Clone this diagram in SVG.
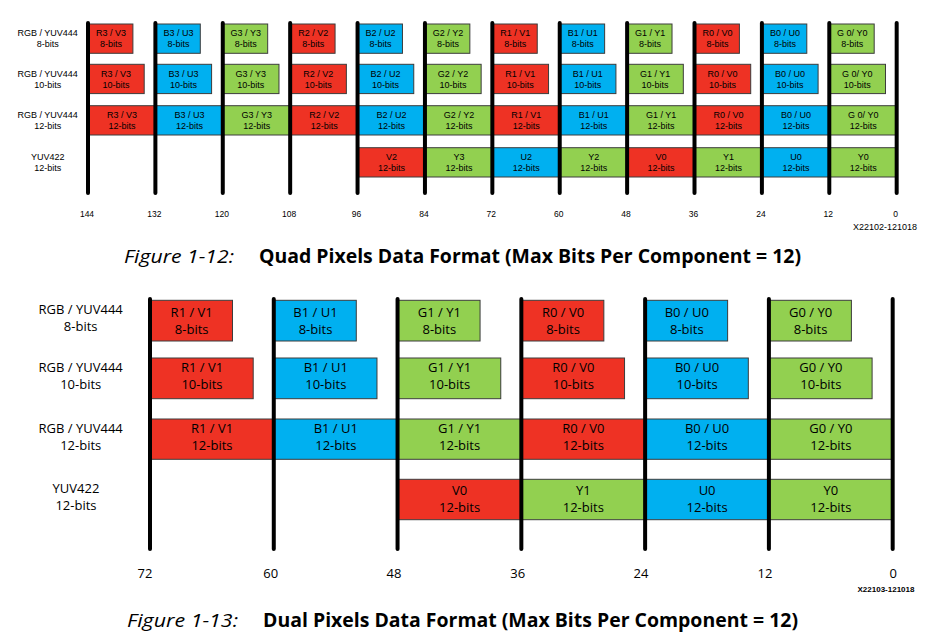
<svg xmlns="http://www.w3.org/2000/svg" width="952" height="643" viewBox="0 0 952 643">
  <style>
    .r { fill: #EE3224; }
    .b { fill: #00B0F0; }
    .g { fill: #92D050; }
    rect { stroke: #3C3C3C; stroke-width: 1; }
    .bar { stroke: #000; stroke-width: 4; stroke-linecap: round; fill: none; }
    .t9 { font-family: "Liberation Sans", Arial, sans-serif; font-size: 9px; fill: #000; text-anchor: middle; }
    .t13 { font-family: "Open Sans", "Liberation Sans", sans-serif; font-size: 13px; fill: #000; text-anchor: middle; }
    .tag { font-family: "Liberation Sans", Arial, sans-serif; font-size: 8px; font-weight: bold; fill: #000; text-anchor: middle; }
    .capi { font-family: "Open Sans", "Liberation Sans", sans-serif; font-size: 19px; font-style: italic; fill: #000; }
    .capb { font-family: "Open Sans", "Liberation Sans", sans-serif; font-size: 19px; font-weight: bold; fill: #000; }
  </style>

  <!-- ===== Quad pixels (48-bit per pixel, 12 bit slots) ===== -->
  <g id="quad-row-labels" class="t9">
    <text x="47.7" y="35.9">RGB / YUV444</text><text x="47.7" y="46.9">8-bits</text>
    <text x="47.7" y="76.9">RGB / YUV444</text><text x="47.7" y="87.5">10-bits</text>
    <text x="47.7" y="117.9">RGB / YUV444</text><text x="47.7" y="128.9">12-bits</text>
    <text x="47.7" y="159.9">YUV422</text><text x="47.7" y="170.9">12-bits</text>
  </g>

  <!-- 8-bit row -->
  <g id="q8-r3"><rect class="r" x="88" y="24" width="44.9" height="29.3"/><text class="t9" x="111" y="35.9">R3 / V3</text><text class="t9" x="111" y="46.9">8-bits</text></g>
  <g id="q8-b3"><rect class="b" x="155.39" y="24" width="44.9" height="29.3"/><text class="t9" x="178.4" y="35.9">B3 / U3</text><text class="t9" x="178.4" y="46.9">8-bits</text></g>
  <g id="q8-g3"><rect class="g" x="222.78" y="24" width="44.9" height="29.3"/><text class="t9" x="245.8" y="35.9">G3 / Y3</text><text class="t9" x="245.8" y="46.9">8-bits</text></g>
  <g id="q8-r2"><rect class="r" x="290.17" y="24" width="44.9" height="29.3"/><text class="t9" x="313.2" y="35.9">R2 / V2</text><text class="t9" x="313.2" y="46.9">8-bits</text></g>
  <g id="q8-b2"><rect class="b" x="357.56" y="24" width="44.9" height="29.3"/><text class="t9" x="380.6" y="35.9">B2 / U2</text><text class="t9" x="380.6" y="46.9">8-bits</text></g>
  <g id="q8-g2"><rect class="g" x="424.95" y="24" width="44.9" height="29.3"/><text class="t9" x="448" y="35.9">G2 / Y2</text><text class="t9" x="448" y="46.9">8-bits</text></g>
  <g id="q8-r1"><rect class="r" x="492.34" y="24" width="44.9" height="29.3"/><text class="t9" x="515.3" y="35.9">R1 / V1</text><text class="t9" x="515.3" y="46.9">8-bits</text></g>
  <g id="q8-b1"><rect class="b" x="559.73" y="24" width="44.9" height="29.3"/><text class="t9" x="582.7" y="35.9">B1 / U1</text><text class="t9" x="582.7" y="46.9">8-bits</text></g>
  <g id="q8-g1"><rect class="g" x="627.12" y="24" width="44.9" height="29.3"/><text class="t9" x="650.1" y="35.9">G1 / Y1</text><text class="t9" x="650.1" y="46.9">8-bits</text></g>
  <g id="q8-r0"><rect class="r" x="694.51" y="24" width="44.9" height="29.3"/><text class="t9" x="717.5" y="35.9">R0 / V0</text><text class="t9" x="717.5" y="46.9">8-bits</text></g>
  <g id="q8-b0"><rect class="b" x="761.9" y="24" width="44.9" height="29.3"/><text class="t9" x="784.9" y="35.9">B0 / U0</text><text class="t9" x="784.9" y="46.9">8-bits</text></g>
  <g id="q8-g0"><rect class="g" x="829.29" y="24" width="44.9" height="29.3"/><text class="t9" x="852.3" y="35.9">G 0/ Y0</text><text class="t9" x="852.3" y="46.9">8-bits</text></g>

  <!-- 10-bit row -->
  <g id="q10-r3"><rect class="r" x="88" y="64.3" width="56.2" height="29.3"/><text class="t9" x="116" y="76.9">R3 / V3</text><text class="t9" x="116" y="87.5">10-bits</text></g>
  <g id="q10-b3"><rect class="b" x="155.39" y="64.3" width="56.2" height="29.3"/><text class="t9" x="183.4" y="76.9">B3 / U3</text><text class="t9" x="183.4" y="87.5">10-bits</text></g>
  <g id="q10-g3"><rect class="g" x="222.78" y="64.3" width="56.2" height="29.3"/><text class="t9" x="250.8" y="76.9">G3 / Y3</text><text class="t9" x="250.8" y="87.5">10-bits</text></g>
  <g id="q10-r2"><rect class="r" x="290.17" y="64.3" width="56.2" height="29.3"/><text class="t9" x="318.2" y="76.9">R2 / V2</text><text class="t9" x="318.2" y="87.5">10-bits</text></g>
  <g id="q10-b2"><rect class="b" x="357.56" y="64.3" width="56.2" height="29.3"/><text class="t9" x="385.6" y="76.9">B2 / U2</text><text class="t9" x="385.6" y="87.5">10-bits</text></g>
  <g id="q10-g2"><rect class="g" x="424.95" y="64.3" width="56.2" height="29.3"/><text class="t9" x="453" y="76.9">G2 / Y2</text><text class="t9" x="453" y="87.5">10-bits</text></g>
  <g id="q10-r1"><rect class="r" x="492.34" y="64.3" width="56.2" height="29.3"/><text class="t9" x="520.3" y="76.9">R1 / V1</text><text class="t9" x="520.3" y="87.5">10-bits</text></g>
  <g id="q10-b1"><rect class="b" x="559.73" y="64.3" width="56.2" height="29.3"/><text class="t9" x="587.7" y="76.9">B1 / U1</text><text class="t9" x="587.7" y="87.5">10-bits</text></g>
  <g id="q10-g1"><rect class="g" x="627.12" y="64.3" width="56.2" height="29.3"/><text class="t9" x="655.1" y="76.9">G1 / Y1</text><text class="t9" x="655.1" y="87.5">10-bits</text></g>
  <g id="q10-r0"><rect class="r" x="694.51" y="64.3" width="56.2" height="29.3"/><text class="t9" x="722.5" y="76.9">R0 / V0</text><text class="t9" x="722.5" y="87.5">10-bits</text></g>
  <g id="q10-b0"><rect class="b" x="761.9" y="64.3" width="56.2" height="29.3"/><text class="t9" x="789.9" y="76.9">B0 / U0</text><text class="t9" x="789.9" y="87.5">10-bits</text></g>
  <g id="q10-g0"><rect class="g" x="829.29" y="64.3" width="56.2" height="29.3"/><text class="t9" x="857.3" y="76.9">G 0/ Y0</text><text class="t9" x="857.3" y="87.5">10-bits</text></g>

  <!-- 12-bit row -->
  <g id="q12-r3"><rect class="r" x="88" y="105.7" width="67.39" height="29.3"/><text class="t9" x="122" y="117.9">R3 / V3</text><text class="t9" x="122" y="128.9">12-bits</text></g>
  <g id="q12-b3"><rect class="b" x="155.39" y="105.7" width="67.39" height="29.3"/><text class="t9" x="189.4" y="117.9">B3 / U3</text><text class="t9" x="189.4" y="128.9">12-bits</text></g>
  <g id="q12-g3"><rect class="g" x="222.78" y="105.7" width="67.39" height="29.3"/><text class="t9" x="256.8" y="117.9">G3 / Y3</text><text class="t9" x="256.8" y="128.9">12-bits</text></g>
  <g id="q12-r2"><rect class="r" x="290.17" y="105.7" width="67.39" height="29.3"/><text class="t9" x="324.2" y="117.9">R2 / V2</text><text class="t9" x="324.2" y="128.9">12-bits</text></g>
  <g id="q12-b2"><rect class="b" x="357.56" y="105.7" width="67.39" height="29.3"/><text class="t9" x="391.6" y="117.9">B2 / U2</text><text class="t9" x="391.6" y="128.9">12-bits</text></g>
  <g id="q12-g2"><rect class="g" x="424.95" y="105.7" width="67.39" height="29.3"/><text class="t9" x="459" y="117.9">G2 / Y2</text><text class="t9" x="459" y="128.9">12-bits</text></g>
  <g id="q12-r1"><rect class="r" x="492.34" y="105.7" width="67.39" height="29.3"/><text class="t9" x="526.3" y="117.9">R1 / V1</text><text class="t9" x="526.3" y="128.9">12-bits</text></g>
  <g id="q12-b1"><rect class="b" x="559.73" y="105.7" width="67.39" height="29.3"/><text class="t9" x="593.7" y="117.9">B1 / U1</text><text class="t9" x="593.7" y="128.9">12-bits</text></g>
  <g id="q12-g1"><rect class="g" x="627.12" y="105.7" width="67.39" height="29.3"/><text class="t9" x="661.1" y="117.9">G1 / Y1</text><text class="t9" x="661.1" y="128.9">12-bits</text></g>
  <g id="q12-r0"><rect class="r" x="694.51" y="105.7" width="67.39" height="29.3"/><text class="t9" x="728.5" y="117.9">R0 / V0</text><text class="t9" x="728.5" y="128.9">12-bits</text></g>
  <g id="q12-b0"><rect class="b" x="761.9" y="105.7" width="67.39" height="29.3"/><text class="t9" x="795.9" y="117.9">B0 / U0</text><text class="t9" x="795.9" y="128.9">12-bits</text></g>
  <g id="q12-g0"><rect class="g" x="829.29" y="105.7" width="67.39" height="29.3"/><text class="t9" x="863.3" y="117.9">G 0/ Y0</text><text class="t9" x="863.3" y="128.9">12-bits</text></g>

  <!-- YUV422 row -->
  <g id="q422-v2"><rect class="r" x="357.56" y="147.7" width="67.39" height="29.3"/><text class="t9" x="391.6" y="159.9">V2</text><text class="t9" x="391.6" y="170.9">12-bits</text></g>
  <g id="q422-y3"><rect class="g" x="424.95" y="147.7" width="67.39" height="29.3"/><text class="t9" x="459" y="159.9">Y3</text><text class="t9" x="459" y="170.9">12-bits</text></g>
  <g id="q422-u2"><rect class="b" x="492.34" y="147.7" width="67.39" height="29.3"/><text class="t9" x="526.3" y="159.9">U2</text><text class="t9" x="526.3" y="170.9">12-bits</text></g>
  <g id="q422-y2"><rect class="g" x="559.73" y="147.7" width="67.39" height="29.3"/><text class="t9" x="593.7" y="159.9">Y2</text><text class="t9" x="593.7" y="170.9">12-bits</text></g>
  <g id="q422-v0"><rect class="r" x="627.12" y="147.7" width="67.39" height="29.3"/><text class="t9" x="661.1" y="159.9">V0</text><text class="t9" x="661.1" y="170.9">12-bits</text></g>
  <g id="q422-y1"><rect class="g" x="694.51" y="147.7" width="67.39" height="29.3"/><text class="t9" x="728.5" y="159.9">Y1</text><text class="t9" x="728.5" y="170.9">12-bits</text></g>
  <g id="q422-u0"><rect class="b" x="761.9" y="147.7" width="67.39" height="29.3"/><text class="t9" x="795.9" y="159.9">U0</text><text class="t9" x="795.9" y="170.9">12-bits</text></g>
  <g id="q422-y0"><rect class="g" x="829.29" y="147.7" width="67.39" height="29.3"/><text class="t9" x="863.3" y="159.9">Y0</text><text class="t9" x="863.3" y="170.9">12-bits</text></g>

  <!-- bit boundaries -->
  <g id="quad-boundaries" class="bar">
    <line x1="88" y1="23" x2="88" y2="193"/>
    <line x1="155.39" y1="23" x2="155.39" y2="193"/>
    <line x1="222.78" y1="23" x2="222.78" y2="193"/>
    <line x1="290.17" y1="23" x2="290.17" y2="193"/>
    <line x1="357.56" y1="23" x2="357.56" y2="193"/>
    <line x1="424.95" y1="23" x2="424.95" y2="193"/>
    <line x1="492.34" y1="23" x2="492.34" y2="193"/>
    <line x1="559.73" y1="23" x2="559.73" y2="193"/>
    <line x1="627.12" y1="23" x2="627.12" y2="193"/>
    <line x1="694.51" y1="23" x2="694.51" y2="193"/>
    <line x1="761.9" y1="23" x2="761.9" y2="193"/>
    <line x1="829.29" y1="23" x2="829.29" y2="193"/>
    <line x1="896.68" y1="23" x2="896.68" y2="193"/>
  </g>

  <g id="quad-bit-indices" class="t9" style="font-size:8.5px">
    <text x="87" y="216.5">144</text>
    <text x="154.4" y="216.5">132</text>
    <text x="221.8" y="216.5">120</text>
    <text x="289.2" y="216.5">108</text>
    <text x="356.6" y="216.5">96</text>
    <text x="424" y="216.5">84</text>
    <text x="491.3" y="216.5">72</text>
    <text x="558.7" y="216.5">60</text>
    <text x="626.1" y="216.5">48</text>
    <text x="693.5" y="216.5">36</text>
    <text x="760.9" y="216.5">24</text>
    <text x="828.3" y="216.5">12</text>
    <text x="895.7" y="216.5">0</text>
  </g>
  <text class="t9" x="885" y="230">X22102-121018</text>

  <g id="caption-quad">
    <text class="capi" x="124" y="262.5" textLength="110" lengthAdjust="spacingAndGlyphs">Figure 1-12:</text>
    <text class="capb" x="259" y="262.5" textLength="542" lengthAdjust="spacingAndGlyphs">Quad Pixels Data Format (Max Bits Per Component = 12)</text>
  </g>

  <!-- ===== Dual pixels ===== -->
  <g id="dual-row-labels" class="t13">
    <text x="80.7" y="314">RGB / YUV444</text><text x="80.7" y="331.3">8-bits</text>
    <text x="80.7" y="372">RGB / YUV444</text><text x="80.7" y="389">10-bits</text>
    <text x="80.7" y="433">RGB / YUV444</text><text x="80.7" y="450.3">12-bits</text>
    <text x="76" y="493">YUV422</text><text x="76" y="510.3">12-bits</text>
  </g>

  <!-- 8-bit row -->
  <g id="d8-r1"><rect class="r" x="150" y="300.3" width="82.5" height="40.7"/><text class="t13" x="191.7" y="317.3">R1 / V1</text><text class="t13" x="191.7" y="334">8-bits</text></g>
  <g id="d8-b1"><rect class="b" x="273.78" y="300.3" width="82.5" height="40.7"/><text class="t13" x="315.5" y="317.3">B1 / U1</text><text class="t13" x="315.5" y="334">8-bits</text></g>
  <g id="d8-g1"><rect class="g" x="397.56" y="300.3" width="82.5" height="40.7"/><text class="t13" x="439.3" y="317.3">G1 / Y1</text><text class="t13" x="439.3" y="334">8-bits</text></g>
  <g id="d8-r0"><rect class="r" x="521.34" y="300.3" width="82.5" height="40.7"/><text class="t13" x="563" y="317.3">R0 / V0</text><text class="t13" x="563" y="334">8-bits</text></g>
  <g id="d8-b0"><rect class="b" x="645.12" y="300.3" width="82.5" height="40.7"/><text class="t13" x="686.8" y="317.3">B0 / U0</text><text class="t13" x="686.8" y="334">8-bits</text></g>
  <g id="d8-g0"><rect class="g" x="768.9" y="300.3" width="82.5" height="40.7"/><text class="t13" x="810.6" y="317.3">G0 / Y0</text><text class="t13" x="810.6" y="334">8-bits</text></g>

  <!-- 10-bit row -->
  <g id="d10-r1"><rect class="r" x="150" y="358" width="103.2" height="40.7"/><text class="t13" x="202" y="372">R1 / V1</text><text class="t13" x="202" y="389">10-bits</text></g>
  <g id="d10-b1"><rect class="b" x="273.78" y="358" width="103.2" height="40.7"/><text class="t13" x="325.8" y="372">B1 / U1</text><text class="t13" x="325.8" y="389">10-bits</text></g>
  <g id="d10-g1"><rect class="g" x="397.56" y="358" width="103.2" height="40.7"/><text class="t13" x="449.6" y="372">G1 / Y1</text><text class="t13" x="449.6" y="389">10-bits</text></g>
  <g id="d10-r0"><rect class="r" x="521.34" y="358" width="103.2" height="40.7"/><text class="t13" x="573.3" y="372">R0 / V0</text><text class="t13" x="573.3" y="389">10-bits</text></g>
  <g id="d10-b0"><rect class="b" x="645.12" y="358" width="103.2" height="40.7"/><text class="t13" x="697.1" y="372">B0 / U0</text><text class="t13" x="697.1" y="389">10-bits</text></g>
  <g id="d10-g0"><rect class="g" x="768.9" y="358" width="103.2" height="40.7"/><text class="t13" x="820.9" y="372">G0 / Y0</text><text class="t13" x="820.9" y="389">10-bits</text></g>

  <!-- 12-bit row -->
  <g id="d12-r1"><rect class="r" x="150" y="419" width="123.78" height="40.3"/><text class="t13" x="212" y="433">R1 / V1</text><text class="t13" x="212" y="450.3">12-bits</text></g>
  <g id="d12-b1"><rect class="b" x="273.78" y="419" width="123.78" height="40.3"/><text class="t13" x="335.8" y="433">B1 / U1</text><text class="t13" x="335.8" y="450.3">12-bits</text></g>
  <g id="d12-g1"><rect class="g" x="397.56" y="419" width="123.78" height="40.3"/><text class="t13" x="459.6" y="433">G1 / Y1</text><text class="t13" x="459.6" y="450.3">12-bits</text></g>
  <g id="d12-r0"><rect class="r" x="521.34" y="419" width="123.78" height="40.3"/><text class="t13" x="583.3" y="433">R0 / V0</text><text class="t13" x="583.3" y="450.3">12-bits</text></g>
  <g id="d12-b0"><rect class="b" x="645.12" y="419" width="123.78" height="40.3"/><text class="t13" x="707.1" y="433">B0 / U0</text><text class="t13" x="707.1" y="450.3">12-bits</text></g>
  <g id="d12-g0"><rect class="g" x="768.9" y="419" width="123.78" height="40.3"/><text class="t13" x="830.9" y="433">G0 / Y0</text><text class="t13" x="830.9" y="450.3">12-bits</text></g>

  <!-- YUV422 row -->
  <g id="d422-v0"><rect class="r" x="397.56" y="479.3" width="123.78" height="40.4"/><text class="t13" x="459.6" y="495.3">V0</text><text class="t13" x="459.6" y="512.3">12-bits</text></g>
  <g id="d422-y1"><rect class="g" x="521.34" y="479.3" width="123.78" height="40.4"/><text class="t13" x="583.3" y="495.3">Y1</text><text class="t13" x="583.3" y="512.3">12-bits</text></g>
  <g id="d422-u0"><rect class="b" x="645.12" y="479.3" width="123.78" height="40.4"/><text class="t13" x="707.1" y="495.3">U0</text><text class="t13" x="707.1" y="512.3">12-bits</text></g>
  <g id="d422-y0"><rect class="g" x="768.9" y="479.3" width="123.78" height="40.4"/><text class="t13" x="830.9" y="495.3">Y0</text><text class="t13" x="830.9" y="512.3">12-bits</text></g>

  <g id="dual-boundaries" class="bar">
    <line x1="150" y1="299" x2="150" y2="549"/>
    <line x1="273.78" y1="299" x2="273.78" y2="549"/>
    <line x1="397.56" y1="299" x2="397.56" y2="549"/>
    <line x1="521.34" y1="299" x2="521.34" y2="549"/>
    <line x1="645.12" y1="299" x2="645.12" y2="549"/>
    <line x1="768.9" y1="299" x2="768.9" y2="549"/>
    <line x1="892.68" y1="299" x2="892.68" y2="549"/>
  </g>

  <g id="dual-bit-indices" class="t13">
    <text x="145" y="578">72</text>
    <text x="270.7" y="578">60</text>
    <text x="394" y="578">48</text>
    <text x="517.7" y="578">36</text>
    <text x="641" y="578">24</text>
    <text x="765" y="578">12</text>
    <text x="893.3" y="578">0</text>
  </g>
  <text class="tag" x="886" y="592">X22103-121018</text>

  <g id="caption-dual">
    <text class="capi" x="127" y="627" textLength="111" lengthAdjust="spacingAndGlyphs">Figure 1-13:</text>
    <text class="capb" x="263" y="627" textLength="535" lengthAdjust="spacingAndGlyphs">Dual Pixels Data Format (Max Bits Per Component = 12)</text>
  </g>
</svg>
